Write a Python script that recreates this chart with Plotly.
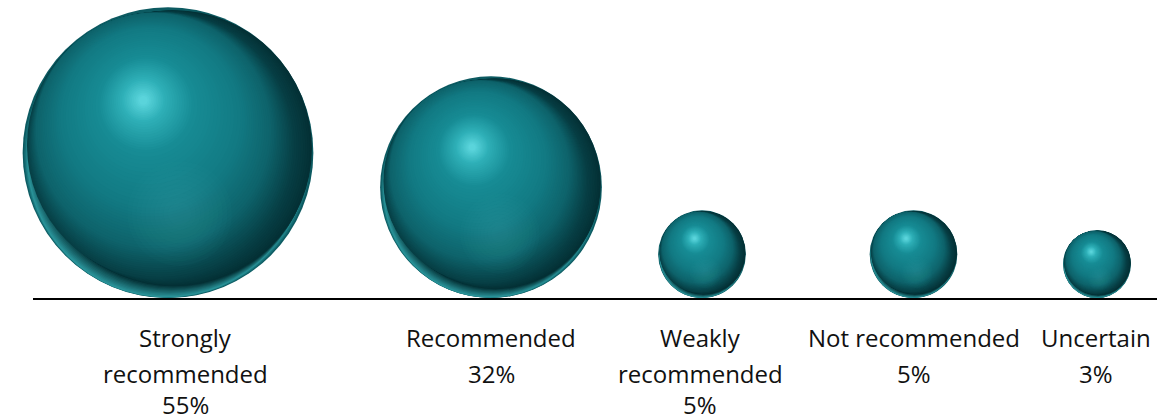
import plotly.graph_objects as go

# ---- data -------------------------------------------------------------
categories = ["Strongly recommended", "Recommended", "Weakly recommended",
              "Not recommended", "Uncertain"]
label_lines = [["Strongly", "recommended"], ["Recommended"],
               ["Weakly", "recommended"], ["Not recommended"], ["Uncertain"]]
values = [55, 32, 5, 5, 3]  # percent

# ---- layout constants (pixel-like data units, y grows downward) -------
W, H = 1176, 420
GROUND_Y = 299
SPHERE_X = [168, 491, 702, 913.5, 1097]
LABEL_X = [185, 491, 700, 914, 1096]
LINE_Y = [337, 373, 404]          # vertical centres of the label lines
R_PER_SQRT = 19.6                 # sphere area proportional to the value
FONT = "Open Sans"
FONT_SIZE = 24

# Shading keyframes: (dx, dy, scale, colour); offsets in units of radius.
KEYS = [
    (0.000, 0.000, 1.000, "#0c5a61"),
    (-0.010, 0.035, 0.960, "#2a9399"),
    (0.040, -0.030, 0.950, "#043035"),
    (-0.050, -0.050, 0.920, "#073f45"),
    (-0.100, -0.150, 0.810, "#0e636b"),
    (-0.120, -0.240, 0.620, "#127a83"),
    (-0.150, -0.330, 0.330, "#178c95"),
    (-0.170, -0.360, 0.150, "#2fb0b8"),
    (-0.170, -0.360, 0.030, "#5ad4db"),
]
STEPS = [3, 10, 8, 14, 14, 14, 12, 10]


def hex_rgb(h):
    h = h.lstrip("#")
    return tuple(int(h[i:i + 2], 16) for i in (0, 2, 4))


def lerp(a, b, u):
    return a + (b - a) * u


def circle(cx, cy, r, fill):
    return dict(type="circle", xref="x", yref="y",
                x0=cx - r, x1=cx + r, y0=cy - r, y1=cy + r,
                fillcolor=fill, line=dict(width=0), layer="above")


def sphere_shapes(cx, cy, R):
    out = []
    for k in range(len(KEYS) - 1):
        a, b = KEYS[k], KEYS[k + 1]
        ca, cb = hex_rgb(a[3]), hex_rgb(b[3])
        n = STEPS[k]
        for j in range(n):
            u = j / n
            dx, dy, s = lerp(a[0], b[0], u), lerp(a[1], b[1], u), lerp(a[2], b[2], u)
            col = tuple(round(lerp(ca[i], cb[i], u)) for i in range(3))
            out.append(circle(cx + dx * R, cy + dy * R, s * R,
                              "rgb(%d,%d,%d)" % col))
    last = KEYS[-1]
    out.append(circle(cx + last[0] * R, cy + last[1] * R, last[2] * R, last[3]))
    # soft bounce light in the lower half
    for j in range(10):
        s = lerp(0.36, 0.08, j / 9)
        out.append(circle(cx + 0.08 * R, cy + 0.42 * R, s * R,
                          "rgba(60,165,172,0.035)"))
    return out


shapes = []
for v, x in zip(values, SPHERE_X):
    R = R_PER_SQRT * v ** 0.5
    shapes += sphere_shapes(x, GROUND_Y - 1 - R, R)

# ground line
shapes.append(dict(type="line", xref="x", yref="y", x0=33, x1=1157,
                   y0=GROUND_Y, y1=GROUND_Y, line=dict(color="#000000", width=2),
                   layer="above"))

annotations = []
for lines, v, x in zip(label_lines, values, LABEL_X):
    for i, t in enumerate(lines + ["%d%%" % v]):
        annotations.append(dict(x=x, y=LINE_Y[i], xref="x", yref="y",
                                text=t, showarrow=False, xanchor="center",
                                yanchor="middle", borderpad=0,
                                font=dict(family=FONT, size=FONT_SIZE,
                                          color="#111111")))

fig = go.Figure()
fig.add_trace(go.Scatter(x=SPHERE_X, y=[GROUND_Y] * len(values), mode="markers",
                         marker=dict(opacity=0), customdata=values,
                         text=categories, hovertemplate="%{text}: %{customdata}%<extra></extra>",
                         showlegend=False))
fig.update_layout(
    width=W, height=H, margin=dict(l=0, r=0, t=0, b=0),
    paper_bgcolor="white", plot_bgcolor="white",
    xaxis=dict(range=[0, W], visible=False, fixedrange=True),
    yaxis=dict(range=[H, 0], visible=False, fixedrange=True),
    shapes=shapes, annotations=annotations,
)
fig.write_html("out.html")
